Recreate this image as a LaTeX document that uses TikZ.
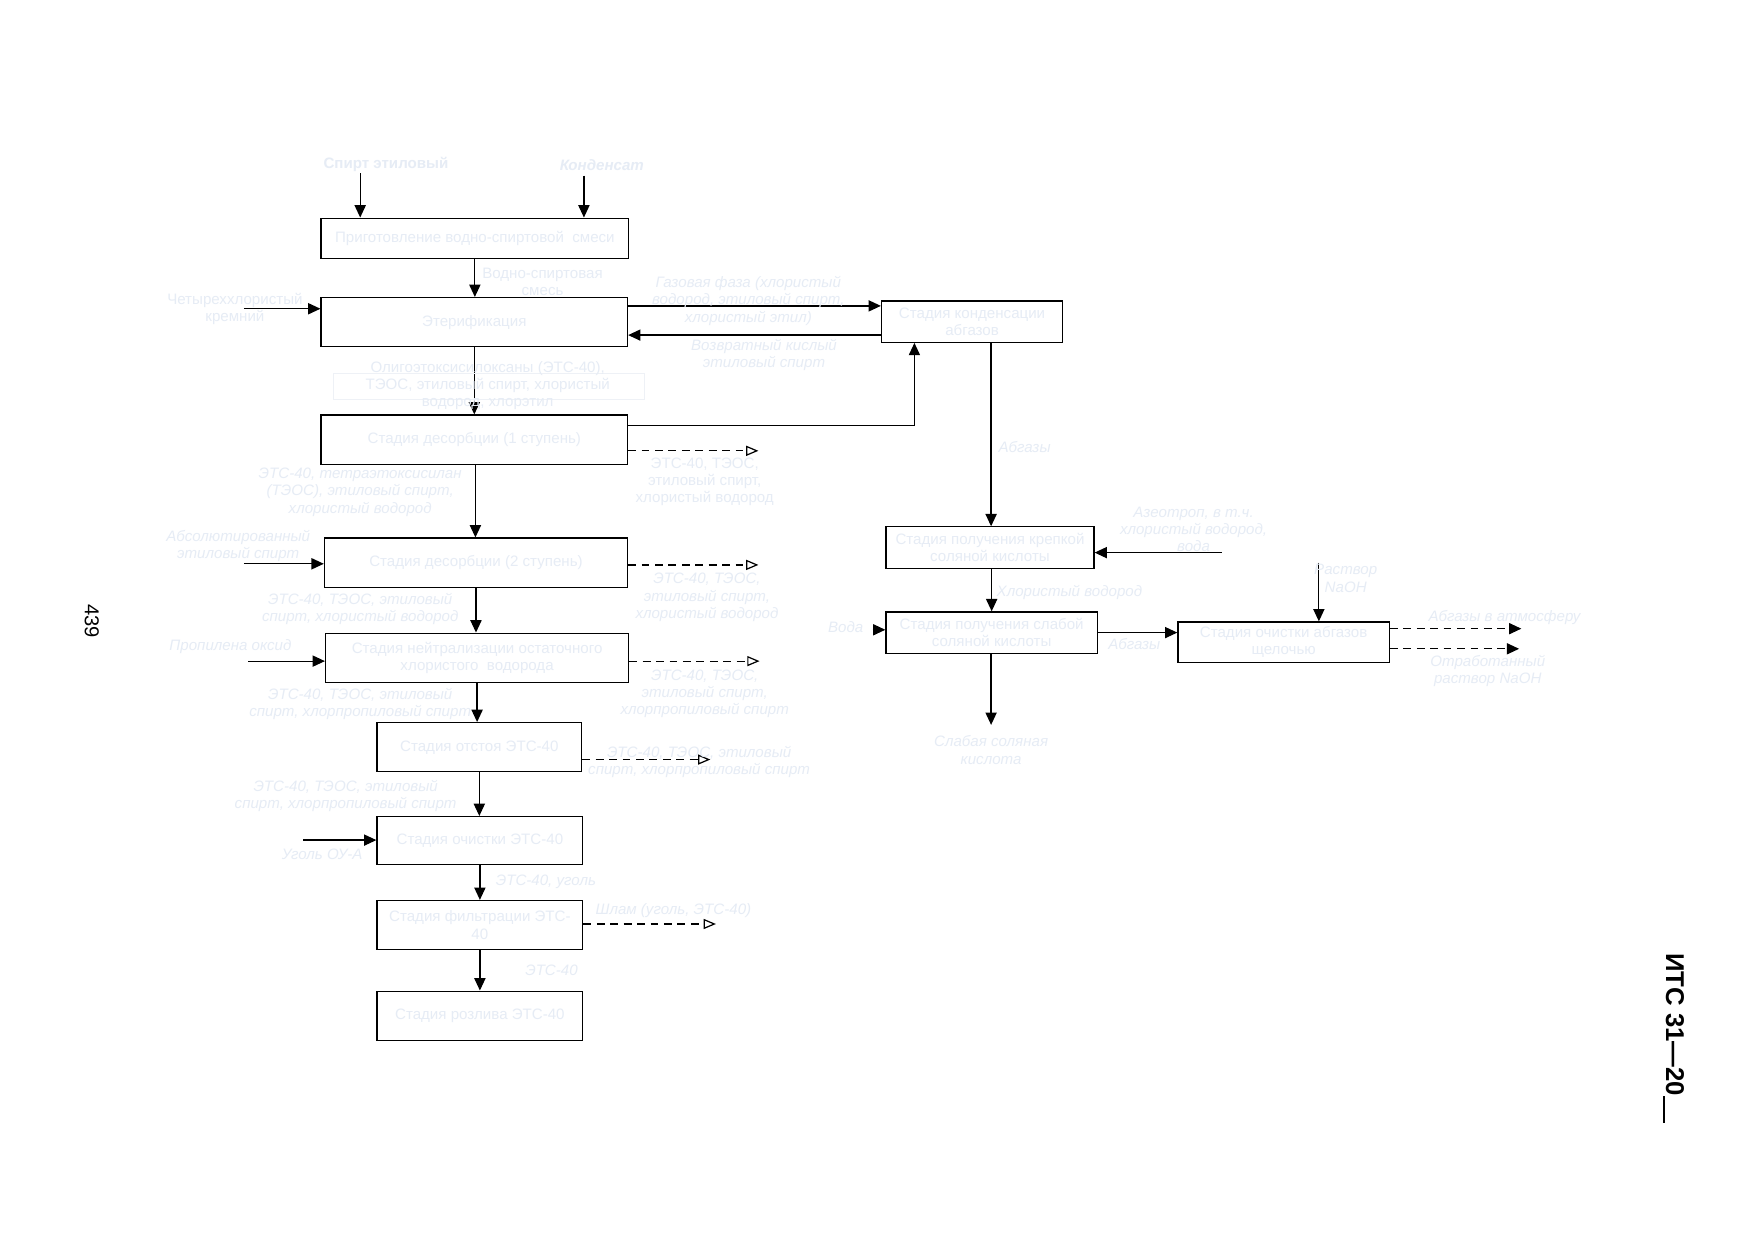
\documentclass[tikz,border=0pt]{standalone}
\usepackage{fontspec}
\setmainfont{Liberation Sans}
\usetikzlibrary{arrows.meta}
\definecolor{tc}{RGB}{230,236,245}
\definecolor{rc}{RGB}{238,241,246}
\begin{document}
\begin{tikzpicture}[x=1pt,y=-1pt,
  box/.style={draw=black, line width=1.1pt, fill=white, inner sep=2pt, align=center, text=tc,
              font=\fontsize{13.5}{15.5}\selectfont},
  lab/.style={align=center, text=tc, inner sep=0pt, font=\fontsize{13.5}{15.3}\selectfont},
  ilab/.style={lab, font=\fontsize{13.5}{15.3}\selectfont\itshape},
  arr/.style={-{Triangle[length=11pt,width=10pt]}, line width=1.1pt},
  darr/.style={-{Triangle[open,length=11pt,width=9pt]}, dash pattern=on 7pt off 5pt, line width=1.1pt},
  darrf/.style={-{Triangle[length=11pt,width=10pt]}, dash pattern=on 7pt off 5pt, line width=1.1pt}]
\fill[white] (0,0) rectangle (1568,1109);
\useasboundingbox (0,0) rectangle (1568,1109);

% ---------- boxes, left column ----------
\node[box, minimum width=275, minimum height=36] (b1) at (424.5,213) {Приготовление водно-спиртовой \ смеси};
\node[box, minimum width=274, minimum height=44] (b2) at (424,288) {Этерификация};
\node[box, minimum width=274, minimum height=44] (b3) at (424,393) {Стадия десорбции (1 ступень)};
\node[box, minimum width=271, minimum height=44] (b4) at (425.5,503) {Стадия десорбции (2 ступень)};
\node[box, minimum width=271, minimum height=44] (b5) at (426.5,588) {Стадия нейтрализации остаточного\\хлористого \ водорода};
\node[box, minimum width=183, minimum height=44] (b6) at (428.5,668) {Стадия отстоя ЭТС-40};
\node[box, minimum width=184, minimum height=43] (b7) at (429,751.5) {Стадия очистки ЭТС-40};
\node[box, minimum width=184, minimum height=44] (b8) at (429,827) {Стадия фильтрации ЭТС-\\40};
\node[box, minimum width=184, minimum height=44] (b9) at (429,908) {Стадия розлива ЭТС-40};

% ---------- boxes, right part ----------
\node[box, minimum width=162, minimum height=37] (bc) at (869,287.5) {Стадия конденсации\\абгазов};
\node[box, minimum width=186, minimum height=37] (b10) at (885,489.5) {Стадия получения крепкой\\соляной кислоты};
\node[box, minimum width=189, minimum height=37] (b11) at (886.5,565.5) {Стадия получения слабой\\соляной кислоты};
\node[box, minimum width=189, minimum height=36] (b12) at (1147.5,574) {Стадия очистки абгазов\\щелочью};

% ---------- free ends ----------
\coordinate (i1) at (322,155);
\coordinate (i2) at (522,157);
\coordinate (i3) at (218,276);
\coordinate (i4) at (218,504);
\coordinate (i5) at (222,591);
\coordinate (i7) at (271,751);
\coordinate (ia) at (1092,494);
\coordinate (iw) at (780,563);
\coordinate (in) at (1179,503);
\coordinate (o3) at (678,403);
\coordinate (o4) at (678,505);
\coordinate (o5) at (679,591);
\coordinate (o6) at (635,679);
\coordinate (o8) at (640,826);
\coordinate (o11) at (886,648);
\coordinate (oa) at (1360,562);
\coordinate (ob) at (1358,580);

% ---------- connectors ----------
\draw[arr] (i1) -- (i1 |- b1.north);
\draw[arr] (i2) -- (i2 |- b1.north);
\draw[arr] (b1.south) -- (b1.south |- b2.north);
\draw[arr] (i3) -- (i3 -| b2.west);
\draw[arr] ([yshift=-8pt]b2.north east) -- ([yshift=-5pt]bc.north west);
\draw[arr] ([yshift=7pt]bc.south west) -- ([yshift=11pt]b2.south east);
\draw[arr] (b2.south) -- (b2.south |- b3.north);
\draw[arr] ([yshift=-10pt]b3.north east) -| ([xshift=30pt]bc.south west);
\draw[darr] (o3 -| b3.east) -- (o3);
\draw[arr] ([xshift=1pt]b3.south) -- ([xshift=1pt]b3.south |- b4.north);
\draw[arr] (i4) -- (i4 -| b4.west);
\draw[darr] (o4 -| b4.east) -- (o4);
\draw[arr] (b4.south) -- (b4.south |- b5.north);
\draw[arr] (i5) -- (i5 -| b5.west);
\draw[darr] (o5 -| b5.east) -- (o5);
\draw[arr] (b5.south) -- (b5.south |- b6.north);
\draw[darr] (o6 -| b6.east) -- (o6);
\draw[arr] (b6.south) -- (b6.south |- b7.north);
\draw[arr] (i7) -- (i7 -| b7.west);
\draw[arr] (b7.south) -- (b7.south |- b8.north);
\draw[darr] (o8 -| b8.east) -- (o8);
\draw[arr] (b8.south) -- (b8.south |- b9.north);

\draw[arr] (bc.south -| o11) -- (o11 |- b10.north);
\draw[arr] (ia) -- (ia -| b10.east);
\draw[arr] (b10.south -| b11.south) -- (b11.north);
\draw[arr] (iw) -- (iw -| b11.west);
\draw[arr] (b11.east) -- (b11.east -| b12.west);
\draw[arr] (b11.south -| o11) -- (o11);
\draw[arr] (in) -- (in |- b12.north);
\draw[darrf] (oa -| b12.east) -- (oa);
\draw[darrf] (ob -| b12.east) -- (ob);

% ---------- labels ----------
\node[lab, font=\fontsize{13.5}{15}\selectfont\bfseries] (l1) at (345,147) {Спирт этиловый};
\node[lab, font=\fontsize{13.5}{15}\selectfont\bfseries\itshape] (l2) at (538,148) {Конденсат};
\node[lab] (l3) at (485,252) {Водно-спиртовая\\смесь};
\node[lab] (l4) at (210,276) {Четыреххлористый\\кремний};
\node[ilab] (l5) at (669,269) {Газовая фаза (хлористый\\водород, этиловый спирт,\\хлористый этил)};
\node[ilab] (l6) at (683,317) {Возвратный кислый\\этиловый спирт};
\node[draw=rc, line width=1pt, minimum width=278, minimum height=23, inner sep=0pt] (lr) at (437,345.5) {};
\node[lab] (l7) at (436,345) {Олигоэтоксисилоксаны (ЭТС-40),\\ТЭОС, этиловый спирт, хлористый\\водород, хлорэтил};
\node[lab] (l8) at (630,431) {ЭТС-40, ТЭОС,\\этиловый спирт,\\хлористый водород};
\node[ilab] (l9) at (322,440) {ЭТС-40, тетраэтоксисилан\\(ТЭОС), этиловый спирт,\\хлористый водород};
\node[ilab] (l10) at (213,488) {Абсолютированный\\этиловый спирт};
\node[ilab] (l11) at (632,534) {ЭТС-40, ТЭОС,\\этиловый спирт,\\хлористый водород};
\node[ilab] (l12) at (322,544.5) {ЭТС-40, ТЭОС, этиловый\\спирт, хлористый водород};
\node[ilab] (l13) at (206,578) {Пропилена оксид};
\node[ilab] (l14) at (630,620) {ЭТС-40, ТЭОС,\\этиловый спирт,\\хлорпропиловый спирт};
\node[ilab] (l15) at (322,629.5) {ЭТС-40, ТЭОС, этиловый\\спирт, хлорпропиловый спирт};
\node[ilab] (l16) at (625,681.5) {ЭТС-40, ТЭОС, этиловый\\спирт, хлорпропиловый спирт};
\node[ilab] (l17) at (309,711.5) {ЭТС-40, ТЭОС, этиловый\\спирт, хлорпропиловый спирт};
\node[ilab] (l18) at (288,764) {Уголь ОУ-А};
\node[ilab] (l19) at (488,788) {ЭТС-40, уголь};
\node[ilab] (l20) at (602,814) {Шлам (уголь, ЭТС-40)};
\node[ilab] (l21) at (493,867) {ЭТС-40};

\node[ilab] (l22) at (916,400) {Абгазы};
\node[ilab] (l23) at (1067,473) {Азеотроп, в т.ч.\\хлористый водород,\\вода};
\node[ilab] (l24) at (956,530) {Хлористый водород};
\node[ilab] (l25) at (756,561) {Вода};
\node[ilab] (l26) at (1014,576) {Абгазы};
\node[ilab] (l27) at (886,670.5) {Слабая соляная\\кислота};
\node[ilab] (l28) at (1203,517) {Раствор\\NaOH};
\node[ilab] (l29) at (1345,552) {Абгазы в атмосферу};
\node[ilab] (l30) at (1330,599.5) {Отработанный\\раствор NaOH};

% ---------- page marks ----------
\node[rotate=-90, inner sep=0pt, font=\fontsize{18}{18}\selectfont] (pg) at (82,555) {439};
\node[rotate=-90, inner sep=0pt, font=\fontsize{23}{23}\selectfont\bfseries] (hd) at (1496,928) {ИТС 31—20\rule[-3pt]{24pt}{2pt}};
\end{tikzpicture}
\end{document}
